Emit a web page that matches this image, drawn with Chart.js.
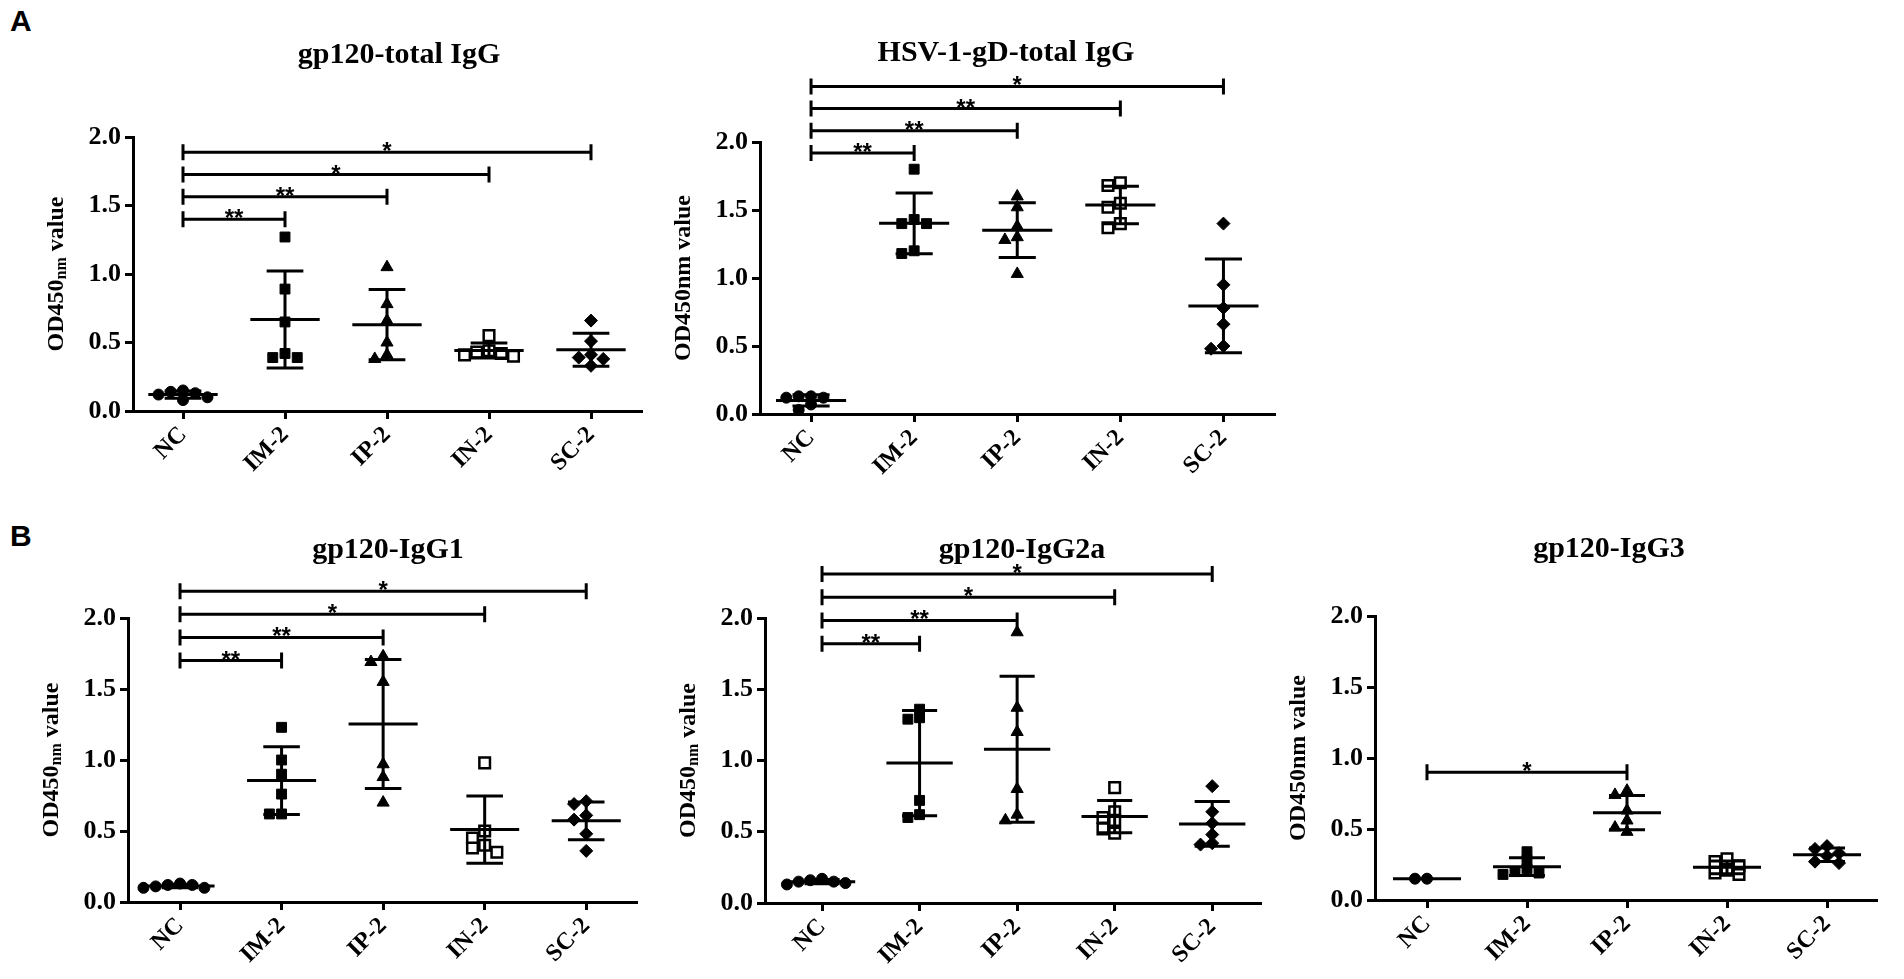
<!DOCTYPE html>
<html>
<head>
<meta charset="utf-8">
<script src="https://cdn.jsdelivr.net/npm/chart.js@4.4.1/dist/chart.umd.min.js"></script>
<style>
  html, body { margin: 0; padding: 0; background: #fff; overflow: hidden; }
  #page { position: relative; width: 1904px; height: 979px; }
  #page canvas { position: absolute; }
  .tag { position: absolute; font: bold 30px 'Liberation Sans', Arial, sans-serif; color: #000; }
</style>
</head>
<body>
<div id="page">
  <div class="tag" style="left:10px;top:4px">A</div>
  <div class="tag" style="left:10px;top:519px">B</div>
</div>
<script>
'use strict';

// groups on the x axis and y ticks
var groups = ['NC', 'IM-2', 'IP-2', 'IN-2', 'SC-2'];
var yTicks = [0, 0.5, 1.0, 1.5, 2.0];

// OD450 values per mouse, one row per group (NC, IM-2, IP-2, IN-2, SC-2)
var gp120Total = [
  [0.15, 0.14, 0.13, 0.12, 0.10, 0.08],
  [1.27, 0.89, 0.65, 0.42, 0.39, 0.39],
  [1.05, 0.78, 0.66, 0.50, 0.41, 0.38],
  [0.55, 0.44, 0.43, 0.42, 0.41, 0.40],
  [0.66, 0.51, 0.41, 0.39, 0.38, 0.33]
];
var hsvTotal = [
  [0.13, 0.13, 0.12, 0.12, 0.07, 0.03],
  [1.80, 1.43, 1.40, 1.40, 1.20, 1.18],
  [1.60, 1.52, 1.38, 1.30, 1.28, 1.03],
  [1.70, 1.68, 1.55, 1.52, 1.40, 1.37],
  [1.40, 0.95, 0.78, 0.66, 0.50, 0.48]
];
var gp120IgG1 = [
  [0.13, 0.12, 0.12, 0.11, 0.10, 0.10],
  [1.23, 1.00, 0.90, 0.76, 0.62, 0.62],
  [1.73, 1.69, 1.55, 0.97, 0.88, 0.70],
  [0.98, 0.50, 0.45, 0.40, 0.38, 0.35],
  [0.71, 0.69, 0.61, 0.58, 0.48, 0.36]
];
var gp120IgG2a = [
  [0.17, 0.16, 0.15, 0.15, 0.14, 0.13],
  [1.36, 1.30, 1.29, 0.72, 0.62, 0.60],
  [1.90, 1.37, 1.20, 0.80, 0.62, 0.58],
  [0.81, 0.64, 0.60, 0.58, 0.52, 0.49],
  [0.82, 0.64, 0.56, 0.48, 0.42, 0.41]
];
var gp120IgG3 = [
  [0.15, 0.15],
  [0.34, 0.28, 0.22, 0.20, 0.19, 0.18],
  [0.77, 0.74, 0.63, 0.56, 0.51, 0.48],
  [0.29, 0.27, 0.24, 0.21, 0.19, 0.18],
  [0.38, 0.36, 0.33, 0.31, 0.27, 0.26]
];

// significance vs NC: [group index, stars]
var sigTotal = [[1, '**'], [2, '**'], [3, '*'], [4, '*']];
var sigHsv = [[1, '**'], [2, '**'], [3, '**'], [4, '*']];
var sigIgG1 = [[1, '**'], [2, '**'], [3, '*'], [4, '*']];
var sigIgG2a = [[1, '**'], [2, '**'], [3, '*'], [4, '*']];
var sigIgG3 = [[2, '*']];
// height of the lowest bracket in each panel (OD units)
var sigBase = [1.40, 1.92, 1.70, 1.82, 0.90];

var titles = ['gp120-total IgG', 'HSV-1-gD-total IgG', 'gp120-IgG1', 'gp120-IgG2a', 'gp120-IgG3'];
var subscriptNm = [true, false, true, true, false];

// page layout (pixels)
var rowTop = [0, 470];
var rowHeight = [500, 509];
var boxes = [
  {axis: 133, top: 137, bottom: 411, nc: 50, gap: 102, titleX: 399, titleY: 55, row: 0},
  {axis: 760, top: 142, bottom: 414, nc: 51, gap: 103, titleX: 1006, titleY: 53, row: 0},
  {axis: 128, top: 618, bottom: 902, nc: 52, gap: 101.5, titleX: 388, titleY: 550, row: 1},
  {axis: 765, top: 618, bottom: 903, nc: 57, gap: 97.5, titleX: 1022, titleY: 550, row: 1},
  {axis: 1375, top: 616, bottom: 900, nc: 52, gap: 100, titleX: 1609, titleY: 549, row: 1}
];

var markers = [
  {style: 'circle', r: 5.5, fill: '#000', bw: 1},
  {style: 'rect', r: 7, fill: '#000', bw: 1},
  {style: 'triangle', r: 7, fill: '#000', bw: 1},
  {style: 'rect', r: 7.5, fill: '#fff', bw: 2.5},
  {style: 'rectRot', r: 6.5, fill: '#000', bw: 1}
];

var serif = "'Liberation Serif', 'Times New Roman', serif";
Chart.defaults.font.family = serif;
Chart.defaults.font.weight = 'bold';
Chart.defaults.color = '#000';

// spread points with nearly the same value sideways, like a dot plot
function swarm(vals) {
  var thr = 0.06, step = 0.12;
  var order = vals.map(function (v, i) { return i; }).sort(function (a, b) { return vals[b] - vals[a]; });
  var placed = [];
  var off = [];
  order.forEach(function (i) {
    var cands = [0, -1, 1, -2, 2, -3, 3];
    for (var k = 0; k < cands.length; k++) {
      var ok = placed.every(function (p) { return p.o !== cands[k] || Math.abs(p.v - vals[i]) >= thr; });
      if (ok) { off[i] = cands[k] * step; placed.push({o: cands[k], v: vals[i]}); break; }
    }
  });
  return off;
}

function meanSd(vals) {
  var m = vals.reduce(function (a, b) { return a + b; }, 0) / vals.length;
  if (vals.length < 2) return [m, 0];
  var ss = vals.reduce(function (a, b) { return a + (b - m) * (b - m); }, 0);
  return [m, Math.sqrt(ss / (vals.length - 1))];
}

function decorFor(p) {
  return {
    id: 'decor',
    afterDatasetsDraw: function (chart) {
      var ctx = chart.ctx, xs = chart.scales.x, ys = chart.scales.y, area = chart.chartArea;
      ctx.save();
      ctx.strokeStyle = '#000';
      ctx.fillStyle = '#000';
      ctx.lineCap = 'butt';

      // mean and SD
      ctx.lineWidth = 3;
      p.values.forEach(function (vals, i) {
        var s = meanSd(vals);
        var ym = ys.getPixelForValue(s[0]);
        var yHi = ys.getPixelForValue(s[0] + s[1]);
        var yLo = ys.getPixelForValue(s[0] - s[1]);
        var xc = xs.getPixelForValue(i);
        ctx.beginPath();
        ctx.moveTo(xs.getPixelForValue(i - 0.34), ym);
        ctx.lineTo(xs.getPixelForValue(i + 0.34), ym);
        if (s[1] > 0) {
          ctx.moveTo(xc, yHi); ctx.lineTo(xc, yLo);
          ctx.moveTo(xs.getPixelForValue(i - 0.18), yHi); ctx.lineTo(xs.getPixelForValue(i + 0.18), yHi);
          ctx.moveTo(xs.getPixelForValue(i - 0.18), yLo); ctx.lineTo(xs.getPixelForValue(i + 0.18), yLo);
        }
        ctx.stroke();
      });

      // significance brackets
      ctx.font = "bold 24px 'Liberation Sans', Arial, sans-serif";
      ctx.textAlign = 'center';
      ctx.textBaseline = 'alphabetic';
      p.sig.forEach(function (s, k) {
        var y = ys.getPixelForValue(p.base + k * 0.163);
        var xa = xs.getPixelForValue(0), xb = xs.getPixelForValue(s[0]);
        ctx.lineWidth = 3;
        ctx.beginPath();
        ctx.moveTo(xa, y); ctx.lineTo(xb, y);
        ctx.moveTo(xa, y - 8); ctx.lineTo(xa, y + 8);
        ctx.moveTo(xb, y - 8); ctx.lineTo(xb, y + 8);
        ctx.stroke();
        ctx.fillText(s[1], (xa + xb) / 2, y + 7);
      });

      // panel title
      ctx.font = 'bold 30px ' + serif;
      ctx.textBaseline = 'middle';
      ctx.fillText(p.title, p.box.titleX - p.canvasLeft, p.box.titleY - p.canvasTop);

      // y axis title, optionally with subscript nm
      var big = 'bold 24px ' + serif, small = 'bold 16px ' + serif;
      var parts = p.sub ? [['OD450', big, 0], ['nm', small, 5], [' value', big, 0]] : [['OD450nm value', big, 0]];
      var total = 0;
      parts.forEach(function (q) { ctx.font = q[1]; q.push(ctx.measureText(q[0]).width); total += q[3]; });
      ctx.translate(area.left - 76, (area.top + area.bottom) / 2);
      ctx.rotate(-Math.PI / 2);
      ctx.textAlign = 'left';
      var x = -total / 2;
      parts.forEach(function (q) {
        ctx.font = q[1];
        ctx.fillText(q[0], x, q[2]);
        x += q[3];
      });
      ctx.restore();
    }
  };
}

var panels = [
  {title: titles[0], sub: subscriptNm[0], values: gp120Total, sig: sigTotal, base: sigBase[0], box: boxes[0]},
  {title: titles[1], sub: subscriptNm[1], values: hsvTotal, sig: sigHsv, base: sigBase[1], box: boxes[1]},
  {title: titles[2], sub: subscriptNm[2], values: gp120IgG1, sig: sigIgG1, base: sigBase[2], box: boxes[2]},
  {title: titles[3], sub: subscriptNm[3], values: gp120IgG2a, sig: sigIgG2a, base: sigBase[3], box: boxes[3]},
  {title: titles[4], sub: subscriptNm[4], values: gp120IgG3, sig: sigIgG3, base: sigBase[4], box: boxes[4]}
];

var page = document.getElementById('page');

panels.forEach(function (p) {
  var b = p.box;
  var top0 = rowTop[b.row], H = rowHeight[b.row];
  var plotW = b.nc + 4.5 * b.gap;
  var W = Math.round(110 + plotW + 30);
  p.canvasLeft = b.axis - 110;
  p.canvasTop = top0;

  var cv = document.createElement('canvas');
  cv.width = W;
  cv.height = H;
  cv.style.left = p.canvasLeft + 'px';
  cv.style.top = top0 + 'px';
  cv.style.width = W + 'px';
  cv.style.height = H + 'px';
  page.appendChild(cv);

  var datasets = p.values.map(function (vals, i) {
    var off = swarm(vals);
    var mk = markers[i];
    return {
      label: groups[i],
      data: vals.map(function (v, j) { return {x: i + off[j], y: v}; }),
      pointStyle: mk.style,
      pointRadius: mk.r,
      backgroundColor: mk.fill,
      borderColor: '#000',
      borderWidth: mk.bw,
      clip: false
    };
  });

  new Chart(cv, {
    type: 'scatter',
    data: {datasets: datasets},
    options: {
      responsive: false,
      animation: false,
      devicePixelRatio: 1,
      events: [],
      layout: {
        padding: {left: 50, right: 30, top: b.top - top0, bottom: H - (b.bottom - top0) - 72}
      },
      plugins: {legend: {display: false}, tooltip: {enabled: false}},
      scales: {
        x: {
          type: 'linear',
          min: -b.nc / b.gap,
          max: 4.5,
          afterBuildTicks: function (s) { s.ticks = groups.map(function (g, i) { return {value: i}; }); },
          afterFit: function (s) { s.height = 72; },
          ticks: {
            callback: function (v) { return groups[v]; },
            minRotation: 45, maxRotation: 45, autoSkip: false,
            color: '#000', padding: 2,
            font: {size: 24, weight: 'bold', family: serif}
          },
          grid: {drawOnChartArea: false, tickLength: 8, tickWidth: 3, color: '#000'},
          border: {color: '#000', width: 3}
        },
        y: {
          min: 0,
          max: 2,
          afterBuildTicks: function (s) { s.ticks = yTicks.map(function (v) { return {value: v}; }); },
          afterFit: function (s) { s.width = 60; },
          ticks: {
            callback: function (v) { return v.toFixed(1); },
            color: '#000', padding: 4,
            font: {size: 26, weight: 'bold', family: serif}
          },
          grid: {drawOnChartArea: false, tickLength: 8, tickWidth: 3, color: '#000'},
          border: {color: '#000', width: 3}
        }
      }
    },
    plugins: [decorFor(p)]
  });
});
</script>
</body>
</html>
